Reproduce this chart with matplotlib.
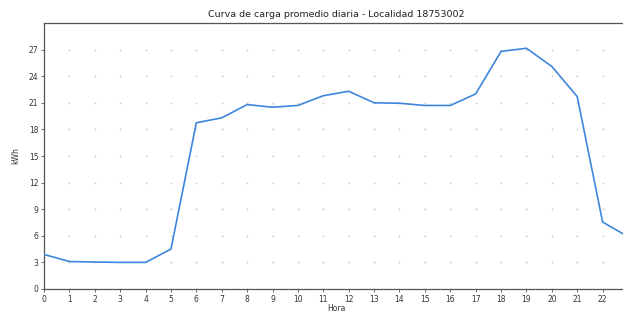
import numpy as np
import matplotlib
matplotlib.use("Agg")
import matplotlib.pyplot as plt

horas = list(range(24))
consumo = [3.9, 3.1, 3.04, 3.0, 3.0, 4.5, 18.75, 19.3, 20.8, 20.5, 20.7, 21.8,
           22.3, 21.0, 20.95, 20.7, 20.7, 22.0, 26.8, 27.15, 25.1, 21.7, 7.55, 5.9]
yticks = [0, 3, 6, 9, 12, 15, 18, 21, 24, 27]
titulo = "Curva de carga promedio diaria - Localidad 18753002"

fig = plt.figure(figsize=(6.23, 3.12), dpi=100)
ax = fig.add_axes([44/623, 23/312, (628-44)/623, (289-23)/312])

# dotted grid: dots at tick intersections
gx, gy = np.meshgrid(horas, yticks)
ax.scatter(gx.ravel(), gy.ravel(), s=2.0, color="#cfcfcf", zorder=1, linewidths=0)

ax.plot(horas, consumo, color="#3d86dc", linewidth=1.2, zorder=3)

ax.set_xlim(0, 23)
ax.set_ylim(0, 30)
ax.set_xticks(horas)
ax.set_yticks(yticks)
ax.tick_params(labelsize=5.5, length=2.5, width=0.6, color="#555555", pad=1.5, labelcolor="#333333")
for s in ax.spines.values():
    s.set_color("#555555")
    s.set_linewidth(0.9)
ax.spines["right"].set_visible(False)

ax.set_title(titulo, fontsize=6.8, color="#222222", pad=4)
ax.set_xlabel("Hora", fontsize=5.5, color="#333333", labelpad=0)
ax.set_ylabel("kWh", fontsize=5.5, color="#333333", labelpad=6)

fig.savefig("out.png", dpi=100)
